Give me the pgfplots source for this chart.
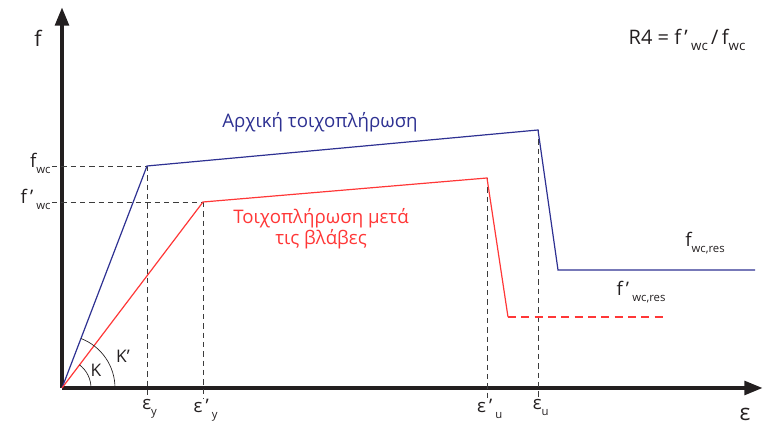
\documentclass[border=0pt]{standalone}
\usepackage{pgfplots}
\pgfplotsset{compat=1.18}
\usepackage{fontspec}
\setmainfont{Open Sans}
\usetikzlibrary{arrows.meta}
\definecolor{cblue}{RGB}{46,49,146}
\definecolor{cred}{RGB}{255,55,55}
\definecolor{cax}{RGB}{35,31,32}
\definecolor{cgd}{RGB}{60,60,60}
\newcommand{\sub}[1]{\raisebox{-4.5pt}{\fontsize{8.5}{9}\selectfont #1}}
\newcommand{\bsub}[1]{\raisebox{-5pt}{\fontsize{10}{11}\selectfont #1}}
\newcommand{\pr}{\,\raisebox{0pt}{’}\,}
\begin{document}
\begin{tikzpicture}
\path[use as bounding box] (-46.5pt,-34.5pt) rectangle (525.75pt,291pt);
\begin{axis}[
  anchor=origin, at={(0,0)},
  x=0.75pt, y=0.75pt,
  xmin=0, xmax=701, ymin=0, ymax=381,
  axis lines=left,
  axis line style={line width=3.3pt, color=cax, -{Triangle[length=14pt,width=10pt]}},
  clip=false,
  xtick={85,141,425,476},
  xticklabels={{ε\sub{y}},{ε\pr\sub{y}},{ε\pr\sub{u}},{ε\sub{u}}},
  ytick={222,186},
  yticklabels={{f\sub{wc}},{f\pr\sub{wc}}},
  major tick length=0pt,
  xticklabel style={font=\fontsize{14}{15}\selectfont, anchor=north, yshift=-5pt, xshift=2pt},
  yticklabel style={font=\fontsize{14}{15}\selectfont, anchor=east, xshift=-5pt, yshift=2pt},
  every tick label/.append style={text=cax},
]
% guide lines
\addplot[cgd, line width=0.7pt, dash pattern=on 4pt off 3pt] coordinates {(-10,222) (85,222)};
\addplot[cgd, line width=0.7pt, dash pattern=on 4pt off 3pt] coordinates {(-10,186) (141,186)};
\addplot[cgd, line width=0.7pt, dash pattern=on 4pt off 3pt] coordinates {(85,222) (85,-11)};
\addplot[cgd, line width=0.7pt, dash pattern=on 4pt off 3pt] coordinates {(141,186) (141,-11)};
\addplot[cgd, line width=0.7pt, dash pattern=on 4pt off 3pt] coordinates {(425,210) (425,-11)};
\addplot[cgd, line width=0.7pt, dash pattern=on 4pt off 3pt] coordinates {(476,258) (476,-11)};
% blue curve
\addplot[cblue, line width=0.9pt] coordinates {(0,0) (85,222) (476,258) (496,118) (693,118)};
% red curve
\addplot[cred, line width=0.9pt] coordinates {(0,0) (141,186) (425,210) (446,71)};
\addplot[cred, line width=0.9pt, dash pattern=on 6pt off 4pt] coordinates {(446,71) (603,71)};
% arcs
\draw[cax, line width=0.5pt] (axis cs:29,0) arc[start angle=0, end angle=52.8, radius=21.75pt];
\draw[cax, line width=0.5pt] (axis cs:53,0) arc[start angle=0, end angle=69, radius=39.75pt];
\node[font=\fontsize{13}{14}\selectfont, text=cax] at (axis cs:34,18) {K};
\node[font=\fontsize{13}{14}\selectfont, text=cax] at (axis cs:61,32) {K’};
% labels
\node[font=\fontsize{16}{17}\selectfont, text=cax] at (axis cs:-24,350) {f};
\node[font=\fontsize{17}{18}\selectfont, text=cax] at (axis cs:683,-26) {ε};
\node[font=\fontsize{15}{16}\selectfont, text=cax] at (axis cs:625,348) {R4 = f\,’\,\bsub{wc}\,/\,f\bsub{wc}};
\node[font=\fontsize{14}{15}\selectfont, text=cblue] at (axis cs:258,266) {Αρχική τοιχοπλήρωση};
\node[font=\fontsize{14}{16}\selectfont, text=cred, align=center] at (axis cs:259,159) {Τοιχοπλήρωση μετά\\τις βλάβες};
\node[font=\fontsize{14}{15}\selectfont, text=cax] at (axis cs:643,145) {f\sub{wc,res}};
\node[font=\fontsize{14}{15}\selectfont, text=cax] at (axis cs:579,96) {f\pr\sub{wc,res}};
\end{axis}
\end{tikzpicture}
\end{document}
